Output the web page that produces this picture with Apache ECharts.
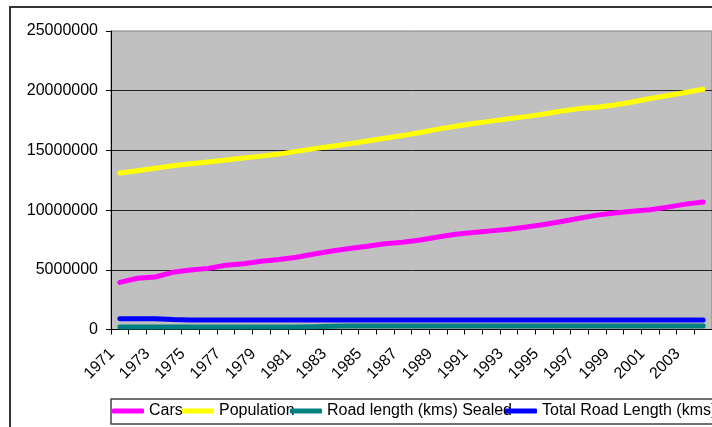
<!DOCTYPE html>
<html>
<head>
<meta charset="utf-8">
<script src="https://cdn.jsdelivr.net/npm/echarts@6/dist/echarts.min.js"></script>
<style>
  html, body { margin: 0; padding: 0; background: #fff; }
  #main { width: 712px; height: 427px; }
</style>
</head>
<body>
<div id="main"></div>
<script>
  // years on the category axis
  var years = []
  for (var y = 1971; y <= 2004; y++) years.push(String(y))

  var cars = [3950000, 4290000, 4400000, 4790000, 4980000, 5120000, 5380000, 5500000, 5720000, 5860000,
    6050000, 6330000, 6580000, 6780000, 6980000, 7180000, 7300000, 7500000, 7750000, 7980000,
    8120000, 8260000, 8400000, 8580000, 8800000, 9050000, 9320000, 9580000, 9760000, 9900000,
    10030000, 10250000, 10500000, 10680000]

  var population = [13100000, 13300000, 13500000, 13720000, 13890000, 14030000, 14190000, 14360000, 14520000, 14690000,
    14920000, 15150000, 15350000, 15560000, 15790000, 16020000, 16240000, 16500000, 16780000, 17030000,
    17250000, 17450000, 17650000, 17830000, 18050000, 18300000, 18500000, 18620000, 18800000, 19050000,
    19350000, 19600000, 19850000, 20120000]

  var roadSealed = [200000, 200000, 200000, 200000, 200000, 200000, 200000, 200000, 200000, 200000,
    200000, 240000, 280000, 290000, 290000, 290000, 290000, 290000, 290000, 290000,
    290000, 290000, 290000, 290000, 290000, 290000, 290000, 290000, 290000, 290000,
    290000, 290000, 290000, 290000]

  var roadTotal = [900000, 905000, 900000, 830000, 800000, 800000, 800000, 800000, 800000, 800000,
    800000, 800000, 800000, 800000, 800000, 800000, 800000, 800000, 800000, 800000,
    800000, 800000, 800000, 800000, 800000, 800000, 800000, 800000, 800000, 800000,
    800000, 800000, 800000, 800000]

  var seriesNames = ['Cars', 'Population', 'Road length (kms) Sealed', 'Total Road Length (kms)']
  var seriesColors = ['#FF00FF', '#FFFF00', '#008080', '#0000FF']
  var seriesData = [cars, population, roadSealed, roadTotal]

  var font = 'Liberation Sans, Arial, sans-serif'
  var legendLeft = [112, 182, 290, 505]

  var chart = echarts.init(document.getElementById('main'))

  var option = {
    animation: false,
    backgroundColor: '#fff',
    textStyle: { fontFamily: font },
    graphic: [{
      type: 'rect',
      shape: { x: 10, y: 7, width: 800, height: 500 },
      style: { fill: 'none', stroke: '#333', lineWidth: 2 },
      z: -1
    }, {
      type: 'rect',
      shape: { x: 111, y: 399, width: 700, height: 25 },
      style: { fill: 'none', stroke: '#444', lineWidth: 1.5 },
      z: -1
    }],
    // one legend per item so the spacing follows the picture
    legend: seriesNames.map(function (name, i) {
      return {
        data: [name],
        left: legendLeft[i],
        top: 403,
        padding: 0,
        icon: 'roundRect',
        itemWidth: 32,
        itemHeight: 5,
        textStyle: { fontSize: 16, color: '#000', fontFamily: font }
      }
    }),
    grid: {
      left: 111,
      top: 31,
      width: 604,
      height: 298.5,
      show: true,
      backgroundColor: '#C0C0C0',
      borderColor: '#808080',
      borderWidth: 1
    },
    xAxis: {
      type: 'category',
      data: years,
      boundaryGap: true,
      axisLine: { lineStyle: { color: '#000', width: 1 } },
      axisTick: { show: true, interval: 0, length: 5, lineStyle: { color: '#000' } },
      axisLabel: {
        interval: 1,
        rotate: 45,
        margin: 14,
        padding: [0, 11, 0, 0],
        fontSize: 16,
        color: '#000',
        fontFamily: font
      },
      splitLine: { show: false }
    },
    yAxis: {
      type: 'value',
      min: 0,
      max: 25000000,
      interval: 5000000,
      axisLine: { show: true, lineStyle: { color: '#000', width: 1 } },
      axisTick: { show: true, length: 5, lineStyle: { color: '#000' } },
      axisLabel: {
        margin: 13,
        fontSize: 16,
        color: '#000',
        fontFamily: font,
        formatter: function (v) { return String(v) }
      },
      splitLine: { show: true, showMaxLine: false, lineStyle: { color: '#222', width: 1 } }
    },
    series: seriesNames.map(function (name, i) {
      return {
        name: name,
        type: 'line',
        data: seriesData[i],
        symbol: 'none',
        color: seriesColors[i],
        lineStyle: { width: 5, color: seriesColors[i], cap: 'round', join: 'round' }
      }
    })
  }

  chart.setOption(option)
</script>
</body>
</html>
